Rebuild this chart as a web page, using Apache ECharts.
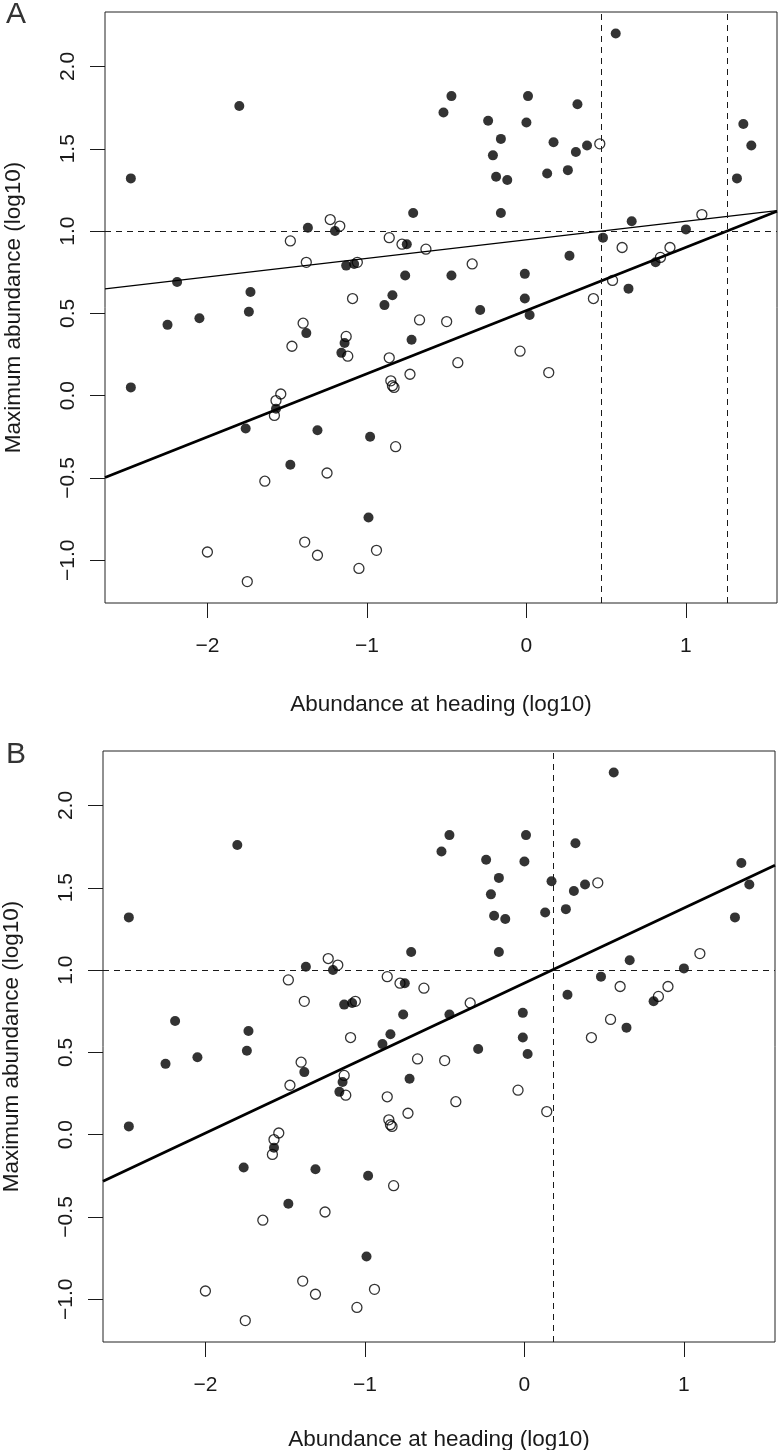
<!DOCTYPE html>
<html><head><meta charset="utf-8">
<script src="https://cdn.jsdelivr.net/npm/echarts@6/dist/echarts.min.js"></script>
<style>html,body{margin:0;padding:0;background:#fff}#c{width:780px;height:1450px}</style>
</head><body><div id="c"></div>
<script>
// ---- data ----
const filledX = [-2.48,-1.80,-1.37,-1.20,-1.13,-1.08,-2.19,-1.73,-0.89,-0.84,-1.74,-2.05,0.56,-0.47,-0.52,0.01,-0.24,0.00,0.32,-0.16,-0.21,0.17,0.31,0.38,-0.19,-0.12,0.13,0.26,1.36,1.41,1.32,-0.71,-0.16,0.66,1.00,0.48,0.81,-0.75,0.27,-0.76,-0.47,-0.01,0.64,-0.01,-0.29,0.02,-0.72,-2.25,-1.38,-1.14,-1.16,-2.48,-1.57,-1.76,-1.31,-0.98,-1.48,-0.99];
const filledY = [1.32,1.76,1.02,1.00,0.79,0.80,0.69,0.63,0.55,0.61,0.51,0.47,2.20,1.82,1.72,1.82,1.67,1.66,1.77,1.56,1.46,1.54,1.48,1.52,1.33,1.31,1.35,1.37,1.65,1.52,1.32,1.11,1.11,1.06,1.01,0.96,0.81,0.92,0.85,0.73,0.73,0.74,0.65,0.59,0.52,0.49,0.34,0.43,0.38,0.32,0.26,0.05,-0.08,-0.20,-0.21,-0.25,-0.42,-0.74];
const openX = [-1.23,-1.17,-1.48,-0.86,-1.38,-1.06,-1.09,0.46,1.10,0.60,0.90,0.84,-0.78,-0.63,-0.34,0.54,0.42,-0.67,-0.50,-0.86,-0.43,-0.04,-0.73,0.14,-0.85,-0.84,-0.83,-0.82,-1.40,-1.47,-1.13,-1.12,-1.54,-1.57,-1.58,-1.25,-1.64,-1.39,-1.31,-0.94,-2.00,-1.05,-1.75];
const openY = [1.07,1.03,0.94,0.96,0.81,0.81,0.59,1.53,1.10,0.90,0.90,0.84,0.92,0.89,0.80,0.70,0.59,0.46,0.45,0.23,0.20,0.27,0.13,0.14,0.09,0.06,0.05,-0.31,0.44,0.30,0.36,0.24,0.01,-0.03,-0.12,-0.47,-0.52,-0.89,-0.97,-0.94,-0.95,-1.05,-1.13];
const xTicks = [-2, -1, 0, 1];
const yTicks = [-1, -0.5, 0, 0.5, 1, 1.5, 2];
const panelLabels = ['A', 'B'];
const xTitle = 'Abundance at heading (log10)';
const yTitle = 'Maximum abundance (log10)';
// regression lines: [intercept, slope]
const fitAThin = [0.947, 0.113];
const fitAThick = [0.517, 0.384];
const fitB = [0.921, 0.456];
// reference (dashed) lines
const vRefA = [0.47, 1.265];
const vRefB = [0.18];
const hRef = [1.0];

// ---- layout ----
const XMIN = -2.642, XMAX = 1.571, YMIN = -1.26, YMAX = 2.331;
const FONT = 'Liberation Sans, Arial, Helvetica, sans-serif';
const INK = '#1a1a1a';
const minus = v => (v < 0 ? '\u2212' : '') + Math.abs(v);

const grids = [
  {left: 105, top: 12, width: 672, height: 591},
  {left: 103, top: 751, width: 672, height: 591}
];
const xNameGaps = [90, 86];
function xAxis(i){return {
  type:'value', gridIndex:i, min:XMIN, max:XMAX,
  axisLine:{show:false, onZero:false}, splitLine:{show:false},
  axisTick:{show:true, inside:false, length:15, customValues:xTicks, lineStyle:{color:INK, width:1}},
  axisLabel:{customValues:xTicks, margin:33, fontSize:21, fontFamily:FONT, color:INK, formatter:v=>minus(v)},
  name:xTitle, nameLocation:'middle', nameGap:xNameGaps[i], nameTextStyle:{fontSize:22.5, fontFamily:FONT, color:INK}
};}
function yAxis(i){return {
  type:'value', gridIndex:i, min:YMIN, max:YMAX,
  axisLine:{show:false, onZero:false}, splitLine:{show:false},
  axisTick:{show:true, inside:false, length:15, customValues:yTicks, lineStyle:{color:INK, width:1}},
  axisLabel:{customValues:yTicks, rotate:90, margin:26, fontSize:21, fontFamily:FONT, color:INK,
    formatter:v=>(v < 0 ? '\u2212' : '') + Math.abs(v).toFixed(1)},
  name:yTitle, nameLocation:'middle', nameGap:80, nameRotate:90, nameTextStyle:{fontSize:22.5, fontFamily:FONT, color:INK}
};}
function pairs(xs, ys){return xs.map((x,k)=>[x, ys[k]]);}
function fitLine(fit, i, w){
  return {type:'line', xAxisIndex:i, yAxisIndex:i, symbol:'none', silent:true, animation:false, clip:true, z:4,
    data:[[XMIN, fit[0]+fit[1]*XMIN],[XMAX, fit[0]+fit[1]*XMAX]],
    lineStyle:{color:'#000', width:w}};
}
function refs(i, vx){
  return {type:'scatter', xAxisIndex:i, yAxisIndex:i, data:[], silent:true, animation:false,
    markLine:{silent:true, symbol:['none','none'], label:{show:false}, animation:false,
      lineStyle:{type:[6,5], color:INK, width:1},
      data: vx.map(v=>({xAxis:v})).concat(hRef.map(v=>({yAxis:v})))}};
}
function pts(i){
  return [
    {type:'scatter', xAxisIndex:i, yAxisIndex:i, data:pairs(openX, openY), symbol:'circle', symbolSize:10,
      itemStyle:{color:'rgba(255,255,255,0)', borderColor:'#000', borderWidth:1.3}, silent:true, animation:false, z:3},
    {type:'scatter', xAxisIndex:i, yAxisIndex:i, data:pairs(filledX, filledY), symbol:'circle', symbolSize:10,
      itemStyle:{color:'#000'}, silent:true, animation:false, z:3}
  ];
}
const option = {
  backgroundColor:'#fff', animation:false,
  title: panelLabels.map((t,k)=>({text:t, left:1, top: k===0 ? -5 : 735,
    textStyle:{fontSize:30, fontWeight:'normal', fontFamily:FONT, color:'#333'}})),
  grid: grids.map(g=>Object.assign({show:true, borderColor:'#222', borderWidth:1, backgroundColor:'transparent',
    containLabel:false, outerBoundsMode:'none'}, g)),
  xAxis:[xAxis(0), xAxis(1)],
  yAxis:[yAxis(0), yAxis(1)],
  series:[
    refs(0, vRefA), ...pts(0), fitLine(fitAThin, 0, 1.3), fitLine(fitAThick, 0, 2.8),
    refs(1, vRefB), ...pts(1), fitLine(fitB, 1, 2.8)
  ]
};
const chart = echarts.init(document.getElementById('c'), null, {renderer:'canvas'});
chart.setOption(option);
</script></body></html>
